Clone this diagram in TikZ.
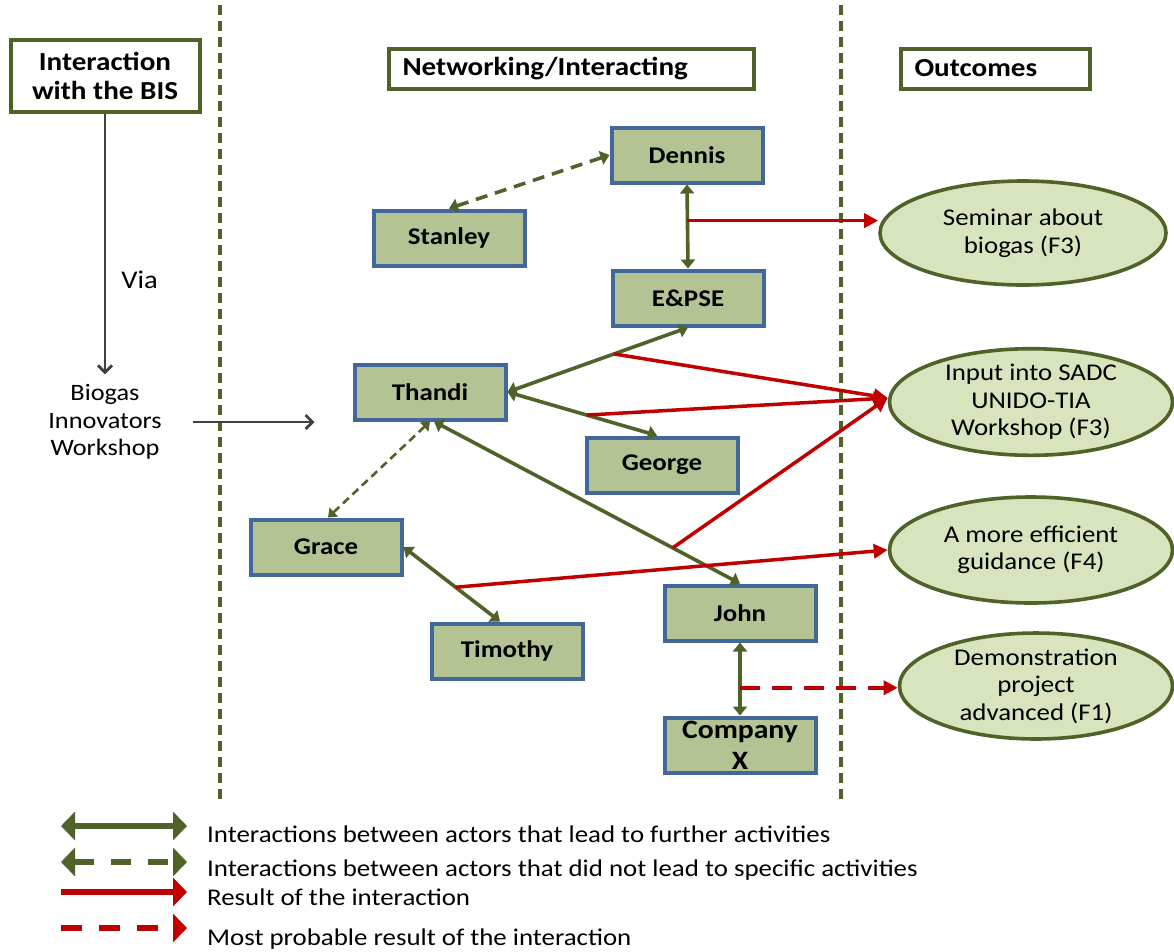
\documentclass[tikz,border=0pt]{standalone}
\usepackage{fontspec}
\setmainfont{Carlito}[FakeStretch=1.12]
\usetikzlibrary{arrows.meta,shapes.geometric}
\definecolor{olivegreen}{HTML}{4F6228}
\definecolor{actorfill}{HTML}{B3C393}
\definecolor{actorline}{HTML}{41679B}
\definecolor{outfill}{HTML}{D7E4BD}
\definecolor{redline}{HTML}{C00000}
\definecolor{grayline}{HTML}{404040}
\tikzset{
  header/.style={draw=olivegreen, fill=white, line width=4pt, font=\bfseries\fontsize{26}{29}\selectfont, align=center, inner sep=0pt},
  actor/.style={draw=actorline, fill=actorfill, line width=4pt, minimum width=151pt, minimum height=55pt, inner sep=0pt, align=center, font=\bfseries\fontsize{24}{28}\selectfont},
  outcome/.style={ellipse, draw=olivegreen, fill=outfill, line width=3.6pt, inner sep=0pt, align=center, font=\fontsize{24}{27.5}\selectfont},
  separator/.style={draw=olivegreen, line width=4pt, dash pattern=on 10pt off 6pt},
  gsolid/.style={draw=olivegreen, line width=3.6pt, {Triangle[length=9pt,width=14pt]}-{Triangle[length=9pt,width=14pt]}},
  gdashed/.style={draw=olivegreen, line width=3.6pt, dash pattern=on 12pt off 8pt, {Triangle[length=9pt,width=14pt]}-{Triangle[length=9pt,width=14pt]}},
  gdashthin/.style={draw=olivegreen, line width=2.6pt, dash pattern=on 8pt off 5pt, {Triangle[length=8pt,width=12pt]}-{Triangle[length=8pt,width=12pt]}},
  rsolid/.style={draw=redline, line width=3.5pt, -{Triangle[length=14pt,width=14pt]}},
  rdashed/.style={draw=redline, line width=3.5pt, dash pattern=on 20pt off 12pt, -{Triangle[length=14pt,width=14pt]}},
  grayarrow/.style={draw=grayline, line width=2.8pt, -{Straight Barb[length=7pt,width=14pt]}},
  legtext/.style={anchor=base west, inner sep=0pt, font=\fontsize{24}{28}\selectfont},
  leggsolid/.style={draw=olivegreen, line width=5.5pt, {Triangle[length=14pt,width=28pt]}-{Triangle[length=14pt,width=28pt]}},
  leggdashed/.style={draw=olivegreen, line width=5.5pt, dash pattern=on 20pt off 17pt, {Triangle[length=14pt,width=28pt]}-{Triangle[length=14pt,width=28pt]}},
  legrsolid/.style={draw=redline, line width=5.5pt, -{Triangle[length=14pt,width=28pt]}},
  legrdashed/.style={draw=redline, line width=5.5pt, dash pattern=on 21pt off 17pt, -{Triangle[length=14pt,width=28pt]}}
}
\begin{document}
\begin{tikzpicture}[x=1pt,y=-1pt]
\useasboundingbox[fill=white] (0,0) rectangle (1174,951);

% separators
\draw[separator] (220,5) -- (220,800);
\draw[separator] (841,5) -- (841,800);

% headers
\node[header, minimum width=189pt, minimum height=72pt] (bis) at (105,75.5) {Interaction\\with the BIS};
\node[header, minimum width=365pt, minimum height=40pt, text width=337pt, align=left, inner xsep=14pt] (net) at (571,68.5) {Networking/Interacting};
\node[header, minimum width=189pt, minimum height=40pt, text width=161pt, align=left, inner xsep=14pt] (outc) at (995,68.5) {Outcomes};

% left column
\node[align=center, font=\fontsize{23.5}{27.5}\selectfont, inner sep=0pt] (biogas) at (105,422) {Biogas\\Innovators\\Workshop};

% actors
\node[actor] (dennis) at (687,155) {Dennis};
\node[actor] (stanley) at (449,238) {Stanley};
\node[actor] (epse) at (688,298) {E\&PSE};
\node[actor] (thandi) at (430,392) {Thandi};
\node[actor] (george) at (662,465) {George};
\node[actor] (grace) at (326,547) {Grace};
\node[actor] (timothy) at (507,651) {Timothy};
\node[actor] (john) at (740,613) {John};
\node[actor, font=\bfseries\fontsize{26.5}{31}\selectfont] (company) at (740,745) {Company\\X};

% outcomes
\node[outcome, minimum width=286pt, minimum height=104pt] (seminar) at (1023,233) {Seminar about\\biogas (F3)};
\node[outcome, minimum width=283pt, minimum height=104pt] (input) at (1031,402) {Input into SADC\\UNIDO-TIA\\Workshop (F3)};
\node[outcome, minimum width=283pt, minimum height=106pt] (effic) at (1031,550) {A more efficient\\guidance (F4)};
\node[outcome, minimum width=273pt, minimum height=94pt] (demo) at (1036,686) {Demonstration\\project\\advanced (F1)};

% gray arrows
\draw[grayarrow] (bis.south) -- node[pos=0.637, anchor=west, inner sep=0pt, xshift=15pt, font=\fontsize{25.5}{28}\selectfont] (via) {Via} ([yshift=10pt]biogas.north);
\draw[grayarrow, shorten <=31pt, shorten >=38pt] (biogas.east |- 0,422) -- (thandi.west |- 0,422);

% green interactions
\draw[gdashed] (stanley.north) -- (dennis.west);
\draw[gsolid] (dennis.south) -- (epse.north) coordinate[pos=0.43] (r1);
\draw[gsolid] (thandi.east) -- (epse.south) coordinate[pos=0.59] (r2);
\draw[gsolid] (thandi.east) -- ([xshift=-5pt]george.north) coordinate[pos=0.53] (r3);
\draw[gdashthin] (thandi.south) -- ([xshift=2pt]grace.north);
\draw[gsolid] ([xshift=4pt]thandi.south) -- (john.north) coordinate[pos=0.78] (r4);
\draw[gsolid] (grace.east) -- ([xshift=-7pt]timothy.north) coordinate[pos=0.54] (r5);
\draw[gsolid] (john.south) -- (company.north) coordinate[pos=0.62] (r6);

% red results
\draw[rsolid] (r1) -- (r1 -| seminar.west);
\draw[rsolid] (r2) -- ([yshift=4pt]input.west);
\draw[rsolid] (r3) -- ([yshift=4pt]input.west);
\draw[rsolid] (r4) -- ([yshift=4pt]input.west);
\draw[rsolid] (r5) -- (effic.west);
\draw[rdashed] (r6) -- (r6 -| demo.west);

% legend
\coordinate (l1a) at (61,826); \coordinate (l1b) at (187,826);
\coordinate (l2a) at (61,862); \coordinate (l2b) at (187,862);
\coordinate (l3a) at (61,892); \coordinate (l3b) at (187,892);
\coordinate (l4a) at (61,928); \coordinate (l4b) at (187,928);
\draw[leggsolid] (l1a) -- (l1b);
\draw[leggdashed] (l2a) -- (l2b);
\draw[legrsolid] (l3a) -- (l3b);
\draw[legrdashed] (l4a) -- (l4b);
\node[legtext] (t1) at (207,842) {Interactions between actors that lead to further activities};
\node[legtext] (t2) at (207,876) {Interactions between actors that did not lead to specific activities};
\node[legtext] (t3) at (207,905) {Result of the interaction};
\node[legtext] (t4) at (207,945) {Most probable result of the interaction};
\end{tikzpicture}
\end{document}
